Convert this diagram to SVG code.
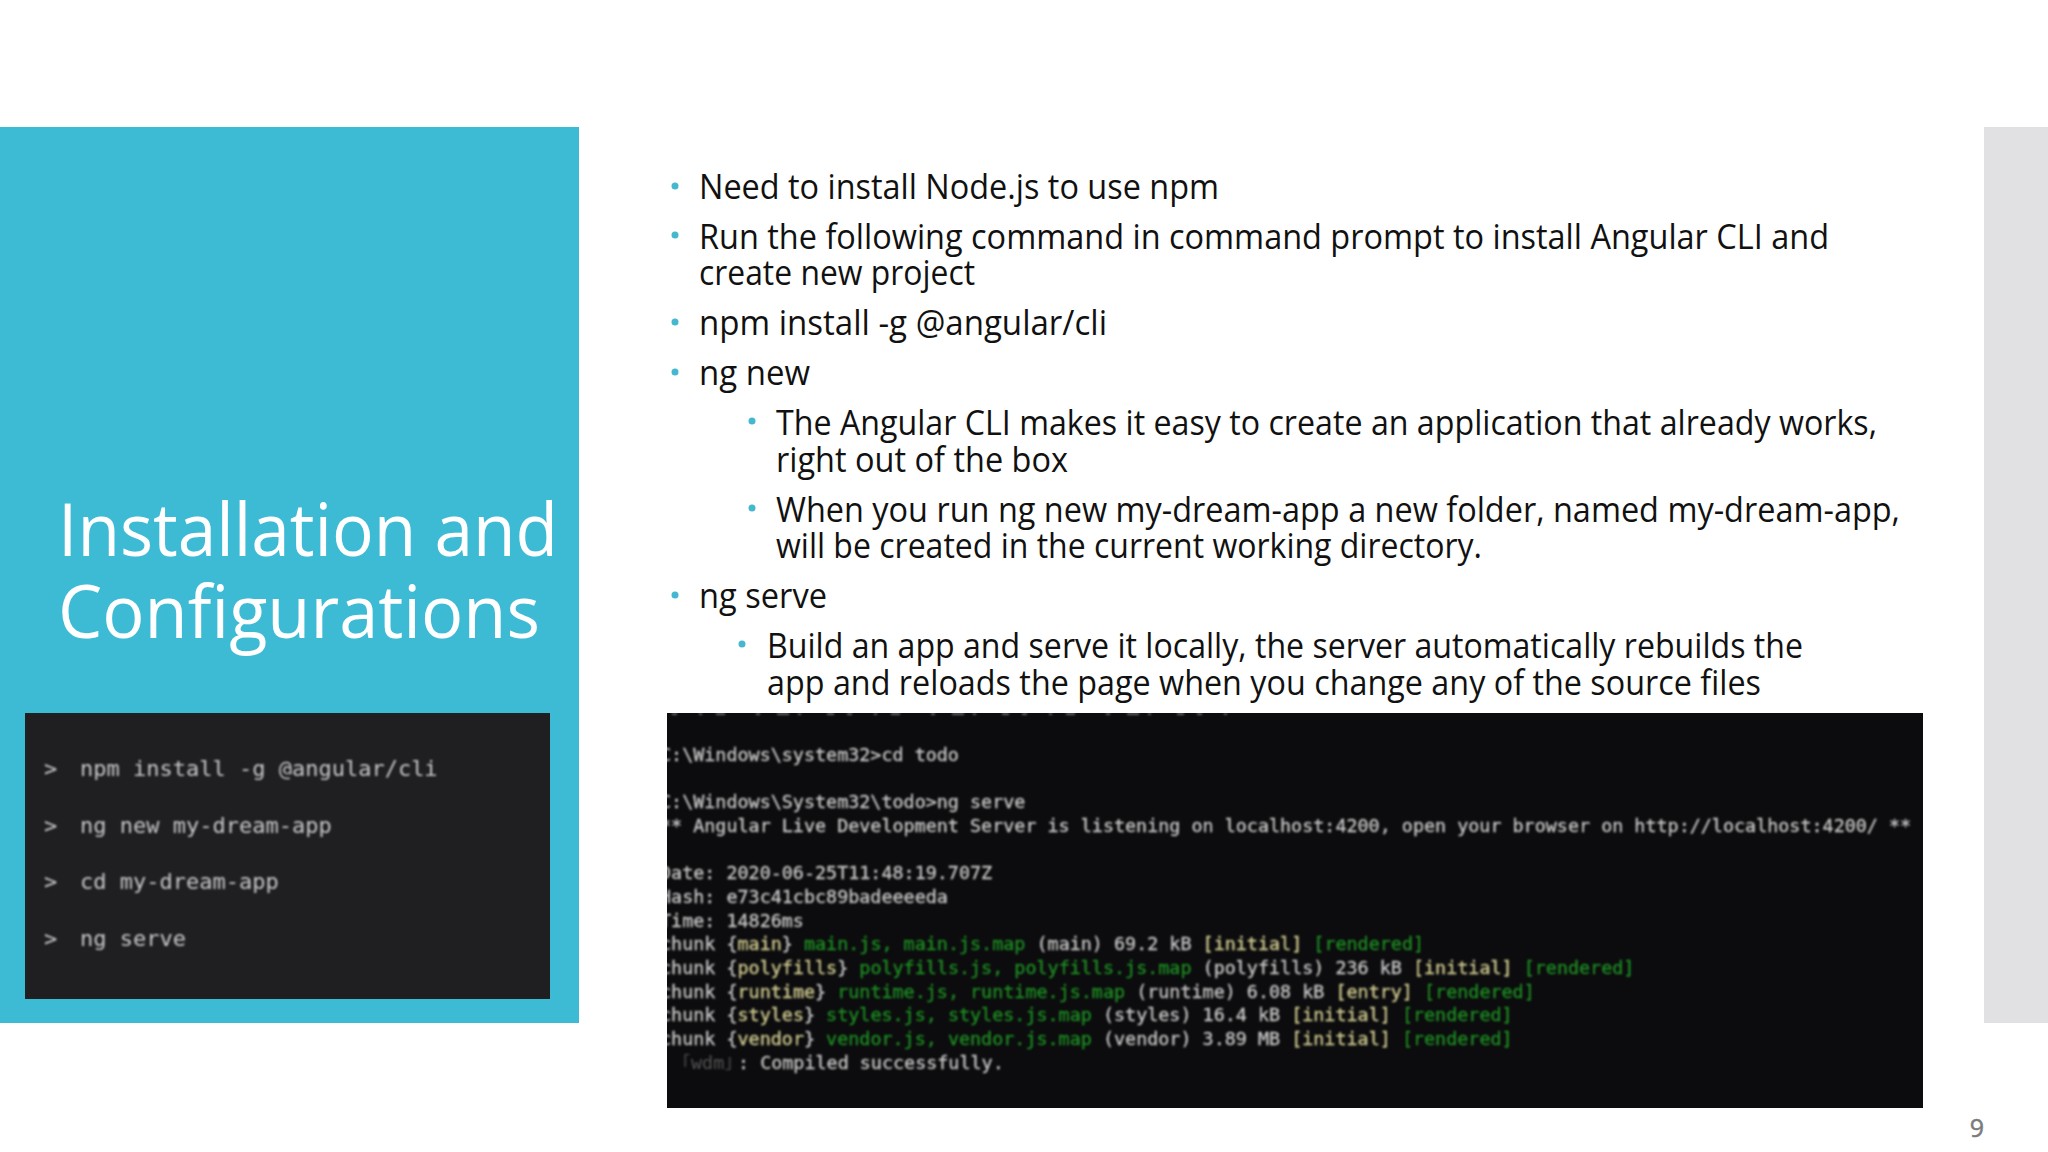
<svg xmlns="http://www.w3.org/2000/svg" width="2048" height="1152" viewBox="0 0 2048 1152">
<defs>
<style>
.b{font-family:"Open Sans","Noto Sans",sans-serif;font-size:34px;fill:#111}
.t{font-family:"Open Sans","Noto Sans",sans-serif;font-size:74px;fill:#fff}
.m{font-family:"DejaVu Sans Mono",monospace;font-size:18.4px;fill:#c4c4c4;stroke:#c4c4c4;stroke-width:.35px}
.c{font-family:"DejaVu Sans Mono",monospace;font-size:22px;fill:#c8c8c8}
.g{fill:#1e8c22;stroke:#1e8c22}.y{fill:#cfc98e;stroke:#cfc98e}
</style>
<filter id="blur" x="-5%" y="-5%" width="110%" height="110%"><feGaussianBlur stdDeviation="0.8"/></filter>
<clipPath id="term"><rect x="667" y="713" width="1256" height="395"/></clipPath>
</defs>
<rect width="2048" height="1152" fill="#fff"/>
<rect x="0" y="127" width="579" height="896" fill="#3dbbd4"/>
<rect x="1984" y="127" width="64" height="896" fill="#e1e1e3"/>
<g id="title">
<text class="t" x="58" y="556" textLength="500" lengthAdjust="spacingAndGlyphs">Installation and</text>
<text class="t" x="58" y="638" textLength="482" lengthAdjust="spacingAndGlyphs">Configurations</text>
</g>
<rect x="25" y="713" width="525" height="286" fill="#1f1e21"/>
<g id="commands" filter="url(#blur)">
<text class="c" x="44" y="776">&gt;</text><text class="c" x="80" y="776">npm install -g @angular/cli</text>
<text class="c" x="44" y="833">&gt;</text><text class="c" x="80" y="833">ng new my-dream-app</text>
<text class="c" x="44" y="889">&gt;</text><text class="c" x="80" y="889">cd my-dream-app</text>
<text class="c" x="44" y="946">&gt;</text><text class="c" x="80" y="946">ng serve</text>
</g>
<g id="bullets-text">
<text class="b" x="699" y="199" textLength="520" lengthAdjust="spacingAndGlyphs">Need to install Node.js to use npm</text>
<text class="b" x="699" y="249" textLength="1130" lengthAdjust="spacingAndGlyphs">Run the following command in command prompt to install Angular CLI and</text>
<text class="b" x="699" y="285" textLength="276" lengthAdjust="spacingAndGlyphs">create new project</text>
<text class="b" x="699" y="335" textLength="408" lengthAdjust="spacingAndGlyphs">npm install -g @angular/cli</text>
<text class="b" x="699" y="385" textLength="111" lengthAdjust="spacingAndGlyphs">ng new</text>
<text class="b" x="776" y="435" textLength="1101" lengthAdjust="spacingAndGlyphs">The Angular CLI makes it easy to create an application that already works,</text>
<text class="b" x="776" y="472" textLength="292" lengthAdjust="spacingAndGlyphs">right out of the box</text>
<text class="b" x="776" y="522" textLength="1124" lengthAdjust="spacingAndGlyphs">When you run ng new my-dream-app a new folder, named my-dream-app,</text>
<text class="b" x="776" y="558" textLength="706" lengthAdjust="spacingAndGlyphs">will be created in the current working directory.</text>
<text class="b" x="699" y="608" textLength="128" lengthAdjust="spacingAndGlyphs">ng serve</text>
<text class="b" x="767" y="658" textLength="1036" lengthAdjust="spacingAndGlyphs">Build an app and serve it locally, the server automatically rebuilds the</text>
<text class="b" x="767" y="695" textLength="994" lengthAdjust="spacingAndGlyphs">app and reloads the page when you change any of the source files</text>
</g>
<g id="bullets" fill="#45b8cf">
<circle cx="675" cy="186" r="3.5"/><circle cx="675" cy="235" r="3.5"/><circle cx="675" cy="322" r="3.5"/><circle cx="675" cy="372" r="3.5"/>
<circle cx="752" cy="421" r="3.5"/><circle cx="752" cy="508" r="3.5"/><circle cx="675" cy="595" r="3.5"/><circle cx="742" cy="644" r="3.5"/>
</g>
<rect x="667" y="713" width="1256" height="395" fill="#0c0c0e"/>
<g id="terminal" clip-path="url(#term)"><g filter="url(#blur)">
<path d="M672 714H1240" stroke="#666" stroke-width="2" stroke-dasharray="5 22 3 14 9 31 4 17 12 9 3 26 7 13"/>
<text class="m" x="660" y="761">C:\Windows\system32&gt;cd todo</text>
<text class="m" x="660" y="808">C:\Windows\System32\todo&gt;ng serve</text>
<text class="m" x="660" y="832">** Angular Live Development Server is listening on localhost:4200, open your browser on http://localhost:4200/ **</text>
<text class="m" x="660" y="879">Date: 2020-06-25T11:48:19.707Z</text>
<text class="m" x="660" y="903">Hash: e73c41cbc89badeeeeda</text>
<text class="m" x="660" y="927">Time: 14826ms</text>
<text class="m" x="660" y="950">chunk {<tspan class="y">main</tspan>} <tspan class="g">main.js, main.js.map</tspan> (main) 69.2 kB <tspan class="y">[initial]</tspan> <tspan class="g">[rendered]</tspan></text>
<text class="m" x="660" y="974">chunk {<tspan class="y">polyfills</tspan>} <tspan class="g">polyfills.js, polyfills.js.map</tspan> (polyfills) 236 kB <tspan class="y">[initial]</tspan> <tspan class="g">[rendered]</tspan></text>
<text class="m" x="660" y="998">chunk {<tspan class="y">runtime</tspan>} <tspan class="g">runtime.js, runtime.js.map</tspan> (runtime) 6.08 kB <tspan class="y">[entry]</tspan> <tspan class="g">[rendered]</tspan></text>
<text class="m" x="660" y="1021">chunk {<tspan class="y">styles</tspan>} <tspan class="g">styles.js, styles.js.map</tspan> (styles) 16.4 kB <tspan class="y">[initial]</tspan> <tspan class="g">[rendered]</tspan></text>
<text class="m" x="660" y="1045">chunk {<tspan class="y">vendor</tspan>} <tspan class="g">vendor.js, vendor.js.map</tspan> (vendor) 3.89 MB <tspan class="y">[initial]</tspan> <tspan class="g">[rendered]</tspan></text>
<text class="m" x="682" y="1069" style="fill:#555;stroke:none">｢wdm｣</text>
<text class="m" x="738" y="1069">: Compiled successfully.</text>
</g></g>
<text id="page" x="1977" y="1137" font-family="Open Sans,sans-serif" font-size="25" fill="#7c7c7c" stroke="#7c7c7c" stroke-width=".5" text-anchor="middle">9</text>
</svg>
